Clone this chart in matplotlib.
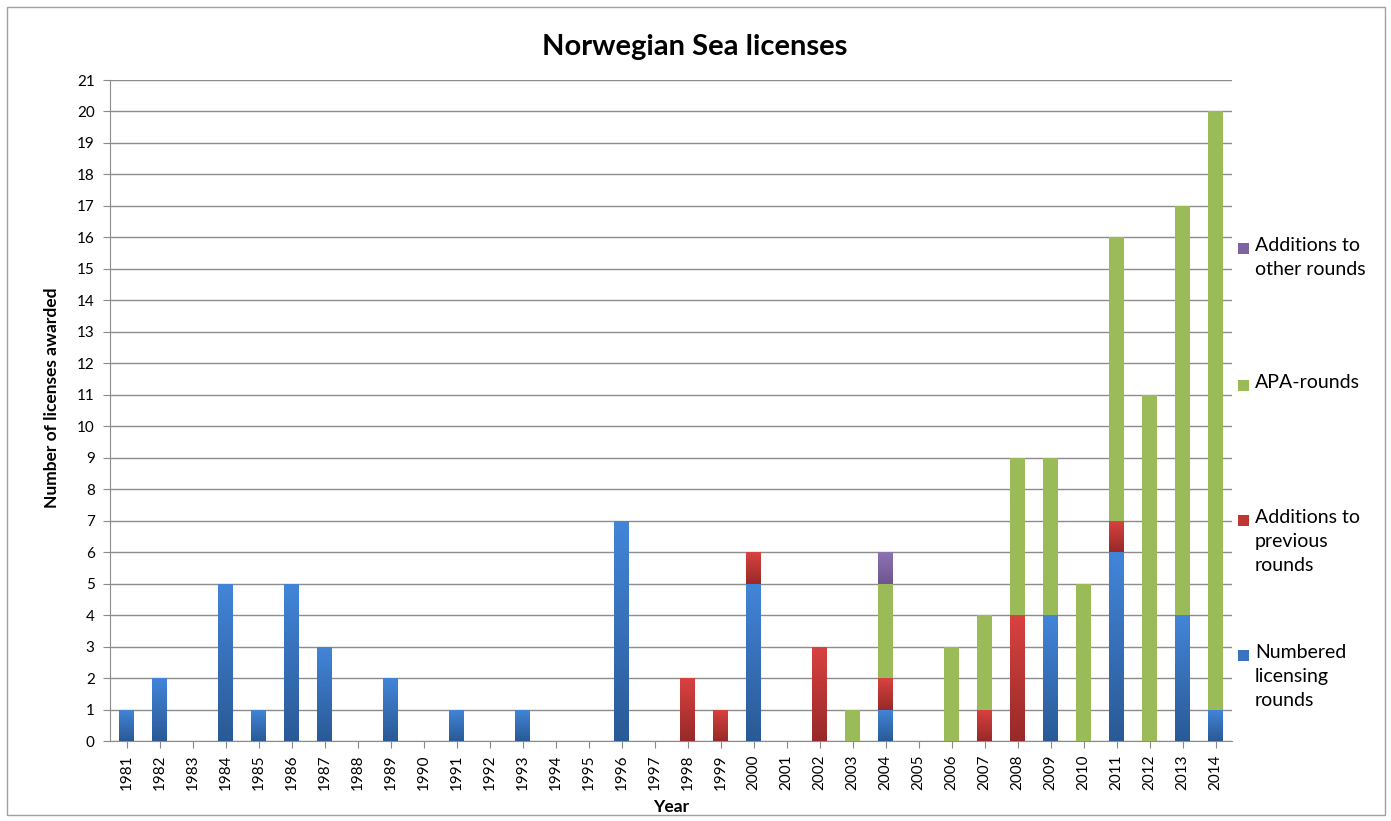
import numpy as np
import matplotlib
matplotlib.use("Agg")
import matplotlib.pyplot as plt
from matplotlib.patches import Rectangle
from matplotlib.colors import LinearSegmentedColormap

plt.rcParams['font.family'] = ['Lato', 'DejaVu Sans']

years = list(range(1981, 2015))
numbered = [1, 2, 0, 5, 1, 5, 3, 0, 2, 0, 1, 0, 1, 0, 0, 7, 0, 0, 0, 5, 0, 0, 0, 1, 0, 0, 0, 0, 4, 0, 6, 0, 4, 1]
additions_prev = [0, 0, 0, 0, 0, 0, 0, 0, 0, 0, 0, 0, 0, 0, 0, 0, 0, 2, 1, 1, 0, 3, 0, 1, 0, 0, 1, 4, 0, 0, 1, 0, 0, 0]
apa = [0, 0, 0, 0, 0, 0, 0, 0, 0, 0, 0, 0, 0, 0, 0, 0, 0, 0, 0, 0, 0, 0, 1, 3, 0, 3, 3, 5, 5, 5, 9, 11, 13, 19]
additions_other = [0, 0, 0, 0, 0, 0, 0, 0, 0, 0, 0, 0, 0, 0, 0, 0, 0, 0, 0, 0, 0, 0, 0, 1, 0, 0, 0, 0, 0, 0, 0, 0, 0, 0]

series = [
    ("Numbered\nlicensing\nrounds", numbered, ("#4285D8", "#2A5A96"), "#3A74C0"),
    ("Additions to\nprevious\nrounds", additions_prev, ("#D84240", "#972A28"), "#C03633"),
    ("APA-rounds", apa, ("#9BBB59", "#9BBB59"), "#9BBB59"),
    ("Additions to\nother rounds", additions_other, ("#8E72B2", "#6E5690"), "#7F64A2"),
]

fig = plt.figure(figsize=(13.91, 8.21), dpi=100)
W, H = 1391, 821
ax = fig.add_axes([110 / W, 1 - 741 / H, (1232 - 110) / W, (741 - 80) / H])

x = np.arange(len(years))
bottom = np.zeros(len(years))
width = 0.45
for label, vals, (ctop, cbot), cmain in series:
    vals = np.array(vals, dtype=float)
    bars = ax.bar(x, vals, width, bottom=bottom, color=cmain, zorder=2, linewidth=0)
    cmap = LinearSegmentedColormap.from_list("g", [cbot, ctop])
    grad = np.linspace(0, 1, 64).reshape(-1, 1)
    for b, v in zip(bars, vals):
        if v <= 0:
            continue
        bx, by = b.get_x(), b.get_y()
        bw, bh = b.get_width(), b.get_height()
        im = ax.imshow(grad, cmap=cmap, aspect='auto', origin='lower',
                       extent=[bx, bx + bw, by, by + bh], zorder=3)
        im.set_clip_path(b)
    bottom += vals

ax.set_xlim(-0.5, len(years) - 0.5)
ax.set_ylim(0, 21)
ax.set_yticks(range(0, 22))
ax.set_xticks(x)
ax.set_xticklabels([str(y) for y in years], rotation=90, fontsize=11)
ax.tick_params(axis='y', labelsize=11, length=5, color='#888888', pad=6)
ax.tick_params(axis='x', length=5, color='#888888', pad=5)
ax.grid(axis='y', color='#8C8C8C', linewidth=1, zorder=0)
ax.set_axisbelow(True)
for s in ['top', 'right']:
    ax.spines[s].set_visible(False)
for s in ['left', 'bottom']:
    ax.spines[s].set_color('#8C8C8C')

ax.set_ylabel("Number of licenses awarded", fontsize=12.5, fontweight='bold')
ax.yaxis.set_label_coords((60 - 110) / (1232 - 110), (741 - 398) / (741 - 80))
ax.set_xlabel("Year", fontsize=12.5, fontweight='bold')
ax.xaxis.set_label_coords(0.5, (741 - 807) / (741 - 80))
ax.xaxis.label.set_va('center')
fig.text(695 / W, 1 - 47 / H, "Norwegian Sea licenses", ha='center', va='center',
         fontsize=21, fontweight='bold')

# legend (manual, top to bottom)
leg_items = [
    (series[3], 248),
    (series[2], 385),
    (series[1], 520),
    (series[0], 655),
]
for (label, vals, (ctop, cbot), cmain), ypix in leg_items:
    fig.patches.append(Rectangle((1238 / W, 1 - (ypix + 6) / H), 11 / W, 11 / H,
                                 transform=fig.transFigure, facecolor=cmain,
                                 edgecolor='none', figure=fig))
    fig.text(1255 / W, 1 - (ypix - 11) / H, label, ha='left', va='top',
             fontsize=14, linespacing=1.5)

# outer frame
fig.patches.append(Rectangle((7 / W, 1 - 815 / H), (1385 - 7) / W, (815 - 7) / H,
                             transform=fig.transFigure, facecolor='none',
                             edgecolor='#A0A0A0', linewidth=1, figure=fig))

fig.savefig("out.png", dpi=100)
